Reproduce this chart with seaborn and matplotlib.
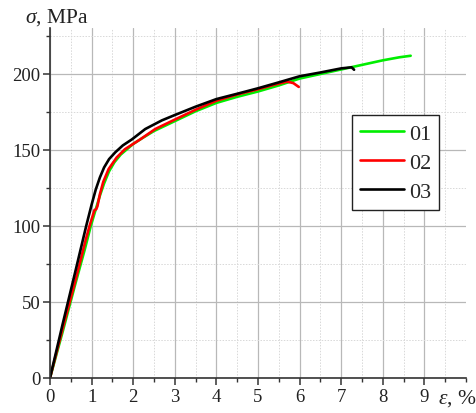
import matplotlib
matplotlib.use("Agg")
import matplotlib.pyplot as plt
import seaborn as sns
import pandas as pd
from matplotlib.ticker import MultipleLocator

# data
eps01 = [0, 0.3, 0.6, 0.84, 0.98, 1.1, 1.2, 1.3, 1.42, 1.55, 1.7, 1.85, 2.0, 2.2, 2.5, 3.0, 3.5,
         4.0, 4.5, 5.0, 5.5, 6.0, 6.5, 7.0, 7.5, 8.0, 8.4, 8.67]
sig01 = [0, 30, 61, 85, 100, 111, 120, 128, 136, 142, 147, 150.5, 154, 157.5, 162.5, 169, 175.5,
         181, 185, 188.5, 192.5, 197, 200, 203, 206, 209, 211, 212]

eps02 = [0, 0.3, 0.6, 0.86, 0.95, 1.03, 1.07, 1.11, 1.14, 1.2, 1.28, 1.41, 1.6, 1.8, 2.17, 2.53,
         3.0, 3.5, 4.0, 4.5, 5.0, 5.4, 5.7, 5.85, 5.98]
sig02 = [0, 32, 63, 91, 100, 107, 110.5, 111, 113, 121, 129, 137.5, 145, 150.5, 157, 163.8,
         170, 176.5, 182.4, 186.5, 190, 193, 195, 194, 191.5]

eps03 = [0, 0.3, 0.6, 0.87, 1.0, 1.1, 1.2, 1.3, 1.42, 1.57, 1.75, 1.97, 2.29, 2.69, 3.0, 3.5,
         4.0, 4.5, 5.0, 5.5, 6.0, 6.5, 7.0, 7.25, 7.31]
sig03 = [0, 35, 69, 100, 114, 124, 132, 138.5, 144, 148.5, 153, 157, 163.8, 169.5, 173, 178.5,
         183.5, 187, 190.6, 194.5, 198.5, 201, 203.7, 204.4, 202.8]

labels = ["01", "02", "03"]
colors = ["#00ee00", "#ff0000", "#000000"]

sns.set_style("white")
plt.rcParams["font.family"] = ["Liberation Serif", "DejaVu Serif"]
plt.rcParams["mathtext.fontset"] = "custom"
plt.rcParams["mathtext.rm"] = "Liberation Serif"
plt.rcParams["mathtext.it"] = "Liberation Serif:italic"

fig = plt.figure(figsize=(4.77, 4.14), dpi=100)
ax = fig.add_axes([50 / 477, 1 - 379 / 414, (466 - 50) / 477, (379 - 29.4) / 414])

for e, s, lab, c in zip([eps01, eps02, eps03], [sig01, sig02, sig03], labels, colors):
    df = pd.DataFrame({"eps": e, "sig": s})
    sns.lineplot(data=df, x="eps", y="sig", ax=ax, color=c, lw=1.9, label=lab,
                 sort=False, estimator=None)

ax.set_xlim(0, 10)
ax.set_ylim(0, 230)
ax.set_xticks(range(0, 10))
ax.set_yticks(range(0, 201, 50))
ax.xaxis.set_minor_locator(MultipleLocator(0.5))
ax.yaxis.set_minor_locator(MultipleLocator(25))
ax.grid(which="major", color="#b8b8b8", lw=0.9, ls="-")
ax.grid(which="minor", color="#d8d8d8", lw=0.7, ls=(0, (1.5, 1.5)))
ax.set_axisbelow(True)
ax.set_xlabel("")
ax.set_ylabel("")

for side in ["top", "right"]:
    ax.spines[side].set_visible(False)
for side in ["left", "bottom"]:
    ax.spines[side].set_color("#333333")
    ax.spines[side].set_linewidth(1.2)

ax.tick_params(which="major", direction="out", length=5, width=1.1, color="#333333",
               labelsize=13.5, labelcolor="#222222", pad=2)
ax.tick_params(which="minor", direction="out", length=3, width=1.0, color="#333333")
ax.tick_params(axis="x", which="both", bottom=True)
ax.tick_params(axis="y", which="both", left=True)

fig.text(25 / 477, 1 - 23 / 414, r"$\sigma$, MPa", fontsize=15.5, color="#222222",
         ha="left", va="baseline")
fig.text(438 / 477, 1 - 404 / 414, r"$\varepsilon$, %", fontsize=15.5, color="#222222",
         ha="left", va="baseline")

leg = ax.legend(loc="upper left", bbox_to_anchor=((352 - 50) / 416, (379 - 116) / 349.6),
                fontsize=16, frameon=True, fancybox=False, edgecolor="#222222",
                framealpha=1, handlelength=2.0, handletextpad=0.2, labelspacing=0.38,
                borderpad=0.36, borderaxespad=0)
leg.get_frame().set_linewidth(1.0)

fig.savefig("out.png", dpi=100)
